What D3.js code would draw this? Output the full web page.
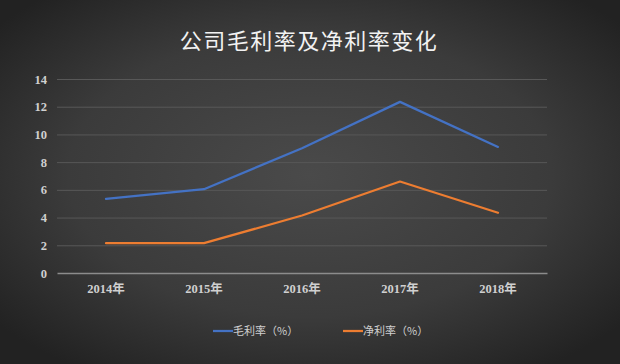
<!DOCTYPE html>
<html>
<head>
<meta charset="utf-8">
<script src="https://cdn.jsdelivr.net/npm/d3@7"></script>
<style>
  html, body { margin: 0; padding: 0; background: #333; }
  svg { display: block; }
</style>
</head>
<body>
<svg id="chart" width="620" height="364"></svg>
<script>
const title = "公司毛利率及净利率变化";
const categories = ["2014年", "2015年", "2016年", "2017年", "2018年"];
const seriesNames = ["毛利率（%）", "净利率（%）"];
const grossMargin = [5.35, 6.05, 9.0, 12.35, 9.1];
const netMargin = [2.15, 2.15, 4.15, 6.6, 4.35];
const yTicks = [0, 2, 4, 6, 8, 10, 12, 14];
const colors = ["#4472c4", "#ed7d31"];

const W = 620, H = 364;
const svg = d3.select("#chart");

const defs = svg.append("defs");
const grad = defs.append("radialGradient").attr("id", "bg")
  .attr("cx", "50%").attr("cy", "48%").attr("r", "65%");
grad.append("stop").attr("offset", "0%").attr("stop-color", "#4a4a4a");
grad.append("stop").attr("offset", "60%").attr("stop-color", "#3b3b3b");
grad.append("stop").attr("offset", "100%").attr("stop-color", "#222222");
svg.append("rect").attr("width", W).attr("height", H).attr("fill", "url(#bg)");

const mLeft = 57, mRight = 547, mTop = 79, mBottom = 273;
const x = d3.scaleBand().domain(categories).range([mLeft, mRight]);
const y = d3.scaleLinear().domain([0, 14]).range([mBottom, mTop]);

// title
svg.append("text").attr("x", 309).attr("y", 49)
  .attr("text-anchor", "middle")
  .attr("font-family", "'Noto Sans CJK SC', sans-serif")
  .attr("font-size", 22).attr("letter-spacing", 1.5)
  .attr("fill", "#f2f2f2").text(title);

// gridlines
svg.append("g").selectAll("line").data(yTicks.filter(d => d > 0)).join("line")
  .attr("x1", mLeft).attr("x2", mRight)
  .attr("y1", d => y(d) + 0.5).attr("y2", d => y(d) + 0.5)
  .attr("stroke", "#585858").attr("stroke-width", 1);

// y axis
const yAxis = d3.axisLeft(y).tickValues(yTicks).tickSize(0).tickPadding(0);
const gy = svg.append("g").attr("transform", `translate(${mLeft - 10},0)`).call(yAxis);
gy.select(".domain").remove();
gy.selectAll("text").attr("font-family", "'Liberation Serif', serif")
  .attr("font-size", 12.5).attr("font-weight", "bold").attr("fill", "#d0d0d0");

// x axis
const xAxis = d3.axisBottom(x).tickSize(0).tickPadding(11);
const gx = svg.append("g").attr("transform", `translate(0,${mBottom})`).call(xAxis);
gx.select(".domain").attr("stroke", "#8c8c8c").attr("stroke-width", 1.5);
gx.selectAll("text").attr("font-family", "'Liberation Serif', 'Noto Sans CJK SC', serif")
  .attr("font-size", 12.5).attr("font-weight", "bold").attr("fill", "#d0d0d0");

// lines
const line = d3.line().x((d, i) => x(categories[i]) + x.bandwidth() / 2).y(d => y(d));
[grossMargin, netMargin].forEach((s, i) => {
  svg.append("path").datum(s).attr("d", line)
    .attr("fill", "none").attr("stroke", colors[i])
    .attr("stroke-width", 2.25).attr("stroke-linejoin", "round").attr("stroke-linecap", "round");
});

// legend
const legendX = [213, 343];
seriesNames.forEach((n, i) => {
  const g = svg.append("g").attr("transform", `translate(${legendX[i]},331)`);
  g.append("line").attr("x1", 0).attr("x2", 20).attr("y1", 0).attr("y2", 0)
    .attr("stroke", colors[i]).attr("stroke-width", 2.25);
  g.append("text").attr("x", 20).attr("y", 4)
    .attr("font-family", "'Noto Sans CJK SC', sans-serif")
    .attr("font-size", 11).attr("fill", "#d0d0d0").text(n);
});
</script>
</body>
</html>
